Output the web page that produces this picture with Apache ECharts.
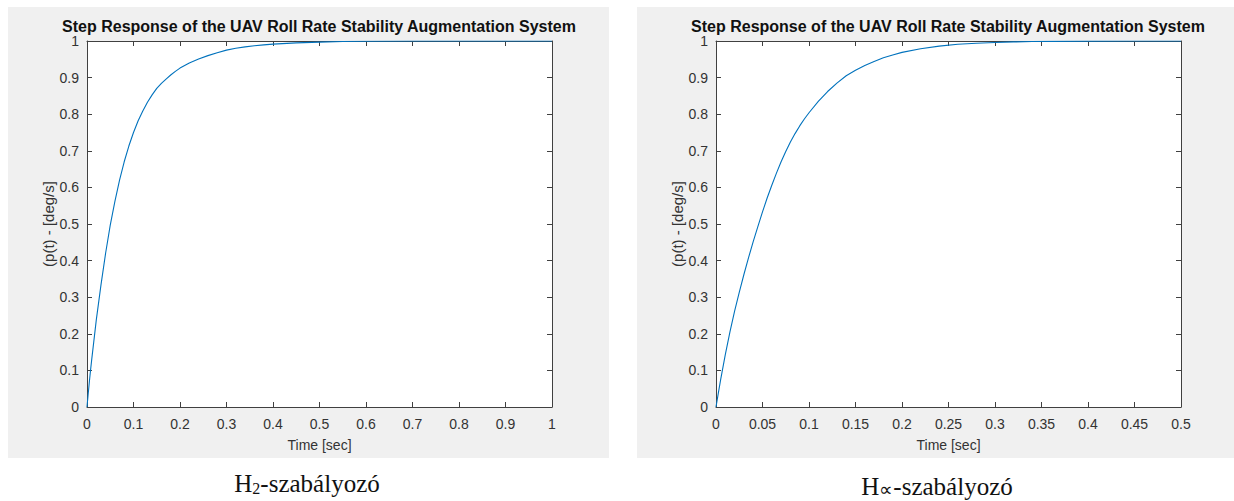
<!DOCTYPE html>
<html>
<head>
<meta charset="utf-8">
<script src="https://cdn.jsdelivr.net/npm/echarts@6/dist/echarts.min.js"></script>
<style>
  html, body { margin: 0; padding: 0; background: #ffffff; }
  #chart { width: 1234px; height: 501px; }
</style>
</head>
<body>
<div id="chart"></div>
<script>
// Step response of the roll-rate loop with the H2 controller (time in s, roll rate)
const h2Time = [0, 0.0025, 0.005, 0.0075, 0.01, 0.02, 0.03, 0.04, 0.05, 0.06, 0.07, 0.08, 0.09,
  0.1, 0.11, 0.12, 0.13, 0.14, 0.15, 0.16, 0.17, 0.18, 0.19, 0.2,
  0.22, 0.24, 0.26, 0.28, 0.3, 0.32, 0.34, 0.36, 0.38, 0.4,
  0.45, 0.5, 0.55, 0.6, 0.7, 0.8, 0.9, 1.0];
const h2Resp = [0, 0.035, 0.068, 0.099, 0.128, 0.238, 0.333, 0.42, 0.497, 0.562, 0.62, 0.67, 0.713,
  0.75, 0.782, 0.809, 0.8325, 0.8527, 0.8704, 0.884, 0.896, 0.907, 0.917, 0.926,
  0.94, 0.951, 0.96, 0.968, 0.975, 0.98, 0.984, 0.987, 0.9895, 0.9915,
  0.995, 0.997, 0.9985, 0.9993, 1.0, 1.0, 1.0, 1.0];

// Step response with the H-infinity controller
const hinfTime = [0, 0.0025, 0.005, 0.01, 0.015, 0.02, 0.025, 0.03, 0.035, 0.04, 0.045, 0.05,
  0.055, 0.06, 0.065, 0.07, 0.075, 0.08, 0.085, 0.09, 0.095, 0.1,
  0.11, 0.12, 0.13, 0.14, 0.15, 0.16, 0.17, 0.18, 0.19, 0.2,
  0.22, 0.24, 0.26, 0.28, 0.3, 0.32, 0.34, 0.36, 0.4, 0.45, 0.5];
const hinfResp = [0, 0.038, 0.075, 0.143, 0.205, 0.262, 0.313, 0.362, 0.408, 0.452, 0.493, 0.533,
  0.571, 0.606, 0.639, 0.67, 0.698, 0.724, 0.747, 0.768, 0.787, 0.804,
  0.835, 0.862, 0.885, 0.905, 0.92, 0.933, 0.944, 0.954, 0.962, 0.969,
  0.979, 0.986, 0.991, 0.994, 0.996, 0.9975, 0.9985, 0.999, 0.9996, 1.0, 1.0];

// Axis ranges: [min, max, tick interval]
const h2TimeAxis = [0, 1, 0.1];
const hinfTimeAxis = [0, 0.5, 0.05];
const respAxis = [0, 1, 0.1];

const plotTitle = 'Step Response of the UAV Roll Rate Stability Augmentation System';
const xName = 'Time [sec]';
const yName = '(p(t) - [deg/s]';

const axisColor = '#404040';
const labelColor = '#333333';
const sans = 'Liberation Sans, Arial, Helvetica, sans-serif';
const serif = 'Liberation Serif, Times New Roman, serif';

function pairs(ts, vs) { return ts.map((t, i) => [t, vs[i]]); }

function xAxes(range, gridIndex) {
  const base = {
    type: 'value', gridIndex: gridIndex, min: range[0], max: range[1], interval: range[2],
    splitLine: { show: false },
    axisLine: { show: true, onZero: false, lineStyle: { color: axisColor, width: 1 } },
    axisTick: { show: true, inside: true, length: 5, lineStyle: { color: axisColor } }
  };
  return [
    Object.assign({}, base, {
      position: 'bottom',
      name: xName, nameLocation: 'middle', nameGap: 31,
      nameTextStyle: { color: labelColor, fontSize: 14, fontFamily: sans },
      axisLabel: { color: labelColor, fontSize: 14, fontFamily: sans, margin: 10 }
    }),
    Object.assign({}, base, { position: 'top', axisLabel: { show: false } })
  ];
}

function yAxes(range, gridIndex) {
  const base = {
    type: 'value', gridIndex: gridIndex, min: range[0], max: range[1], interval: range[2],
    splitLine: { show: false },
    axisLine: { show: true, onZero: false, lineStyle: { color: axisColor, width: 1 } },
    axisTick: { show: true, inside: true, length: 5, lineStyle: { color: axisColor } }
  };
  return [
    Object.assign({}, base, {
      position: 'left',
      name: yName, nameLocation: 'middle', nameGap: 30, nameRotate: 90,
      nameTextStyle: { color: labelColor, fontSize: 15, fontFamily: sans },
      axisLabel: { color: labelColor, fontSize: 14, fontFamily: sans, margin: 8 }
    }),
    Object.assign({}, base, { position: 'right', axisLabel: { show: false } })
  ];
}

function lineSeries(data, xIdx, yIdx) {
  return {
    type: 'line', xAxisIndex: xIdx, yAxisIndex: yIdx, data: data,
    showSymbol: false, symbol: 'none', smooth: false,
    lineStyle: { color: '#0072BD', width: 1.1 }, animation: false
  };
}

function caption(x, y, sub, subSize) {
  return {
    type: 'text', x: x, y: y,
    style: {
      text: '{h|H}{s|' + sub + '}{h|-szabályozó}',
      align: 'center', verticalAlign: 'middle',
      rich: {
        h: { fontFamily: serif, fontSize: 25, lineHeight: 30, verticalAlign: 'bottom', fill: '#111111' },
        s: { fontFamily: serif, fontSize: subSize, lineHeight: 14, verticalAlign: 'bottom', fill: '#111111' }
      }
    }
  };
}

const chart = echarts.init(document.getElementById('chart'), null, { renderer: 'svg' });

chart.setOption({
  backgroundColor: '#ffffff',
  animation: false,
  graphic: [
    { type: 'rect', z: -10, shape: { x: 8, y: 7, width: 601, height: 451 }, style: { fill: '#f0f0f0' } },
    { type: 'rect', z: -10, shape: { x: 637, y: 7, width: 597, height: 451 }, style: { fill: '#f0f0f0' } },
    { type: 'text', x: 319, y: 26, style: { text: plotTitle, align: 'center', verticalAlign: 'middle',
        font: 'bold 16px ' + sans, fill: '#111111' } },
    { type: 'text', x: 948, y: 26, style: { text: plotTitle, align: 'center', verticalAlign: 'middle',
        font: 'bold 16px ' + sans, fill: '#111111' } },
    caption(307, 481, '2', 16),
    caption(937, 484, '∝', 19)
  ],
  grid: [
    { left: 87, right: 682, top: 41, bottom: 94, show: true, backgroundColor: '#ffffff', borderWidth: 0 },
    { left: 716, right: 53, top: 41, bottom: 94, show: true, backgroundColor: '#ffffff', borderWidth: 0 }
  ],
  xAxis: xAxes(h2TimeAxis, 0).concat(xAxes(hinfTimeAxis, 1)),
  yAxis: yAxes(respAxis, 0).concat(yAxes(respAxis, 1)),
  series: [
    lineSeries(pairs(h2Time, h2Resp), 0, 0),
    lineSeries(pairs(hinfTime, hinfResp), 2, 2)
  ]
});
</script>
</body>
</html>
